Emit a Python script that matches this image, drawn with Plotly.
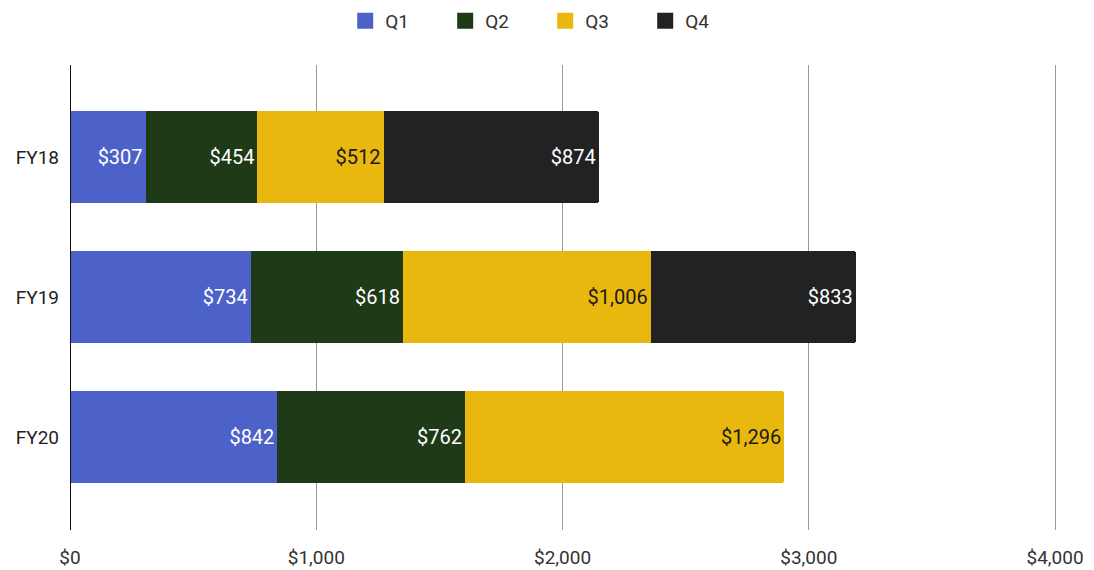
import plotly.graph_objects as go

categories = ["FY18", "FY19", "FY20"]
quarters = ["Q1", "Q2", "Q3", "Q4"]
q1 = [307, 734, 842]
q2 = [454, 618, 762]
q3 = [512, 1006, 1296]
q4 = [874, 833, None]
series = [q1, q2, q3, q4]
colors = ["#4d62c8", "#1e3a17", "#e9b80f", "#222222"]
text_colors = ["white", "white", "#1a1a1a", "white"]
x_ticks = [0, 1000, 2000, 3000, 4000]
x_tick_labels = ["$0", "$1,000", "$2,000", "$3,000", "$4,000"]

fig = go.Figure()
for name, vals, c, tc in zip(quarters, series, colors, text_colors):
    fig.add_trace(go.Bar(
        y=categories, x=vals, name=name, orientation="h",
        marker=dict(color=c, line=dict(width=0)),
        text=[f"${v:,}" if v is not None else "" for v in vals],
        textposition="inside", insidetextanchor="end",
        textfont=dict(color=tc, size=20, family="Roboto"),
        hoverinfo="x+name", showlegend=False,
    ))
for name, c in zip(quarters, colors):
    fig.add_trace(go.Scatter(
        x=[None], y=[None], mode="markers", name=name,
        marker=dict(symbol="square", size=20, color=c),
    ))

fig.update_layout(
    barmode="stack",
    width=1094, height=570,
    margin=dict(l=70, r=34, t=65, b=40, autoexpand=False),
    paper_bgcolor="white", plot_bgcolor="white",
    font=dict(family="Roboto", size=18, color="#222"),
    bargap=0.34,
    barcornerradius=3,
    legend=dict(orientation="h", x=0.48, xanchor="center", y=1 - 21 / 570,
                yref="container", yanchor="middle", itemsizing="trace",
                entrywidth=55, entrywidthmode="pixels",
                font=dict(size=19, color="#333"), traceorder="normal"),
    xaxis=dict(range=[0, 4020], tickvals=x_ticks, ticktext=x_tick_labels,
               showgrid=True, gridcolor="#9a9a9a", gridwidth=1,
               zeroline=False, showline=False, ticks="", ticklabelstandoff=14,
               tickfont=dict(size=19, color="#333")),
    yaxis=dict(type="category", categoryorder="array", categoryarray=categories,
               range=[2.664, -0.657], showgrid=False, zeroline=False,
               showline=False, ticks="", ticklabelstandoff=10,
               tickfont=dict(size=19, color="#222")),
    shapes=[dict(type="line", xref="x", yref="paper", x0=0, x1=0, y0=0, y1=1,
                 line=dict(color="#111", width=2))],
)

fig.write_html("out.html")
